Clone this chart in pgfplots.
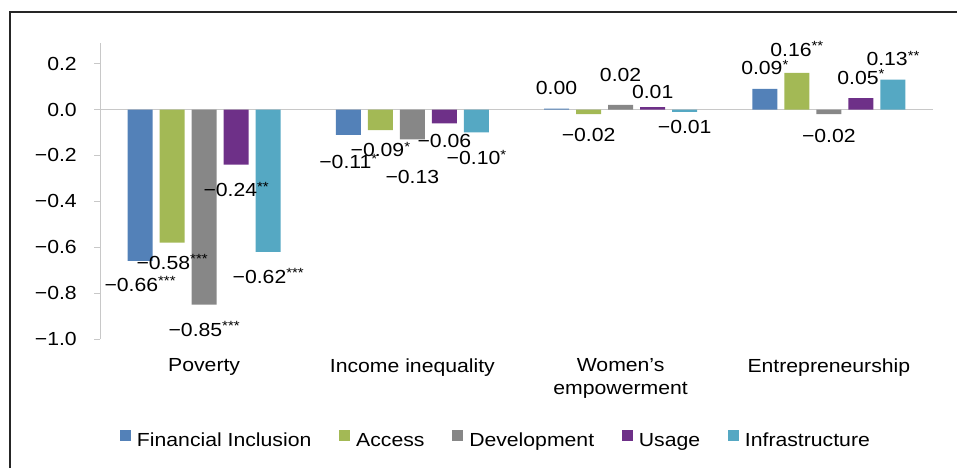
\documentclass[border=0pt]{standalone}
\usepackage{pgfplots}
\pgfplotsset{compat=1.18}
\usepackage{fontspec}
\setmainfont{Liberation Sans}[FakeStretch=1.12]
\newcommand\cf{\fontsize{14.2pt}{17.25pt}\selectfont}
\newcommand\st[1]{\raisebox{0.3em}{\fontsize{10pt}{10pt}\selectfont #1}}
\definecolor{cFI}{HTML}{5381B8}
\definecolor{cAC}{HTML}{A3B955}
\definecolor{cDE}{HTML}{878787}
\definecolor{cUS}{HTML}{6E3088}
\definecolor{cIN}{HTML}{55A8C3}
\definecolor{axgray}{HTML}{C8C8C8}
\pgfplotsset{sq/.style={legend image code/.code={\fill[##1] (0pt,0pt) rectangle (8.25pt,8.25pt);}}}
\begin{document}
\begin{tikzpicture}
\useasboundingbox (0,0) rectangle (717.75pt,351pt);
\draw[line width=1.3pt, black!85] (7.5pt,0pt) -- (7.5pt,342pt) -- (717.75pt,342pt);
\begin{axis}[
  at={(75pt,96.75pt)}, anchor=south west,
  scale only axis, width=624.75pt, height=222pt,
  xmin=-0.5, xmax=3.5, ymin=-1.0, ymax=0.29,
  axis y line*=left, axis x line*=bottom,
  x axis line style={draw=none},
  y axis line style={draw=axgray, line width=0.75pt},
  xtick={0,1,2,3},
  xticklabels={Poverty, Income inequality, {Women’s\\empowerment}, Entrepreneurship},
  xtick style={draw=none},
  xticklabel style={font=\cf, align=center, anchor=north, inner sep=0pt, yshift=-10pt},
  ytick={-1,-0.8,-0.6,-0.4,-0.2,0,0.2},
  yticklabels={−1.0,−0.8,−0.6,−0.4,−0.2,0.0,0.2},
  yticklabel style={font=\cf, anchor=east, inner sep=0pt, xshift=-12.75pt},
  ytick style={draw=axgray, line width=0.75pt},
  tick align=outside, major tick length=4.5pt,
  extra y ticks={0}, extra y tick labels={},
  extra y tick style={grid=major, major grid style={draw=axgray, line width=0.75pt}, major tick length=0pt},
  clip=false,
  legend columns=5, legend cell align=left,
  legend style={at={(axis description cs:0.024,-0.338)}, anchor=west, draw=none, fill=none,
    inner sep=0pt, outer sep=0pt, font=\cf, nodes={inner sep=0pt},
    /tikz/every odd column/.append style={column sep=4.5pt},
    /tikz/every even column/.append style={column sep=20.8pt}},
]
\addplot[ybar, bar width=0.12, bar shift=-0.3077, fill=cFI, draw=none, sq]
  coordinates {(0,-0.66) (1,-0.11) (2,0.004) (3,0.09)};
\addlegendentry{Financial Inclusion}
\addplot[ybar, bar width=0.12, bar shift=-0.1538, fill=cAC, draw=none, sq]
  coordinates {(0,-0.58) (1,-0.09) (2,-0.02) (3,0.16)};
\addlegendentry{Access}
\addplot[ybar, bar width=0.12, bar shift=0, fill=cDE, draw=none, sq]
  coordinates {(0,-0.85) (1,-0.13) (2,0.02) (3,-0.02)};
\addlegendentry{Development}
\addplot[ybar, bar width=0.12, bar shift=0.1538, fill=cUS, draw=none, sq]
  coordinates {(0,-0.24) (1,-0.06) (2,0.01) (3,0.05)};
\addlegendentry{Usage}
\addplot[ybar, bar width=0.12, bar shift=0.3077, fill=cIN, draw=none, sq]
  coordinates {(0,-0.62) (1,-0.10) (2,-0.01) (3,0.13)};
\addlegendentry{Infrastructure}
\addplot[draw=none, mark=none, forget plot,
  nodes near coords, point meta=explicit symbolic,
  nodes near coords align={anchor=center},
  every node near coord/.append style={font=\cf, inner sep=0pt, anchor=center, text=black}]
  coordinates {
  (-0.3077,-0.761) [−0.66\st{***}]
  (-0.1538,-0.665) [−0.58\st{***}]
  (0,-0.957) [−0.85\st{***}]
  (0.1538,-0.348) [−0.24\st{**}]
  (0.3077,-0.726) [−0.62\st{***}]
  (0.6923,-0.226) [−0.11\st{*}]
  (0.8462,-0.174) [−0.09\st{*}]
  (1,-0.296) [−0.13]
  (1.1538,-0.139) [−0.06]
  (1.3077,-0.209) [−0.10\st{*}]
  (1.6923,0.096) [0.00]
  (1.8462,-0.109) [−0.02]
  (2,0.152) [0.02]
  (2.1538,0.078) [0.01]
  (2.3077,-0.078) [−0.01]
  (2.6923,0.183) [0.09\st{*}]
  (2.8462,0.265) [0.16\st{**}]
  (3,-0.117) [−0.02]
  (3.1538,0.143) [0.05\st{*}]
  (3.3077,0.222) [0.13\st{**}]
  };
\end{axis}
\end{tikzpicture}
\end{document}
